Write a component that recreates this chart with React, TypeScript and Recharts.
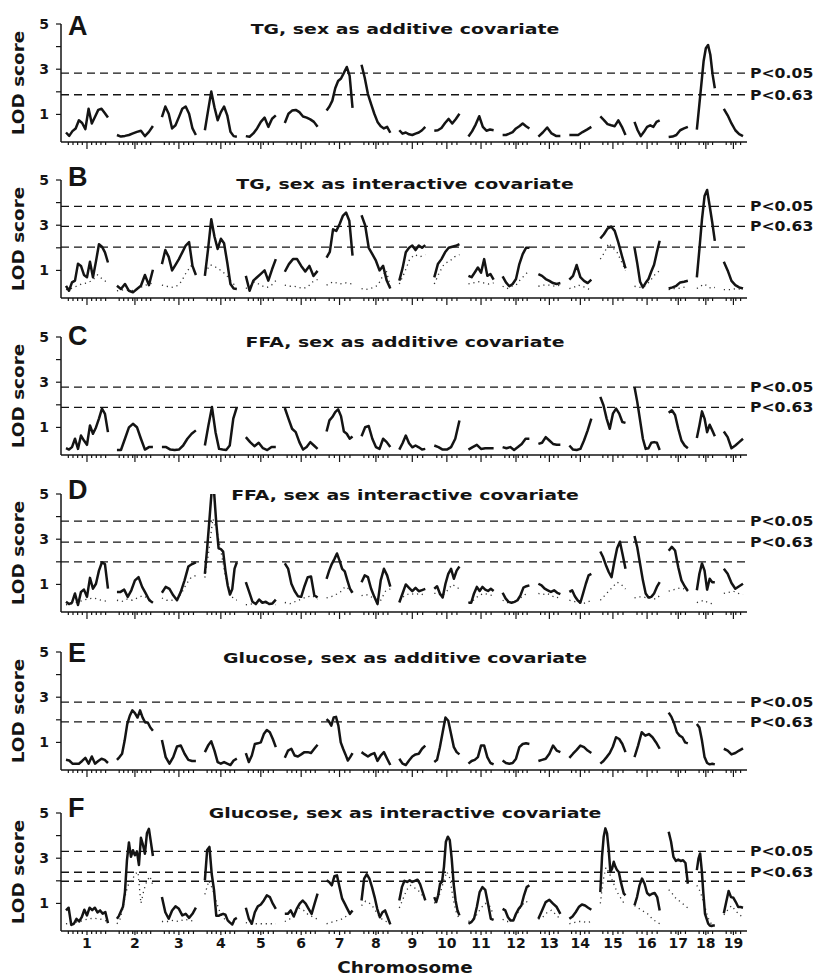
import React from 'react';
import { LineChart, Line, XAxis, YAxis, ReferenceLine } from 'recharts';

// chromosome layout (cM-like units)
const CHROMOSOMES = ['1', '2', '3', '4', '5', '6', '7', '8', '9', '10', '11', '12', '13', '14', '15', '16', '17', '18', '19'];
const CHR_LENGTHS = [105, 90, 85, 80, 75, 82, 65, 72, 65, 63, 63, 67, 55, 55, 63, 63, 48, 45, 48];
const CHR_GAP = 22.5;

const THRESH_LABELS = ['P<0.05', 'P<0.63'];

// A: TG, sex as additive covariate
const TG_ADD = [
  [0.2, 0.05, 0.26, 0.38, 0.74, 0.62, 0.35, 1.25, 0.6, 0.9, 1.2, 1.25, 1.06, 0.86],
  [0.09, 0.02, 0.05, 0.09, 0.16, 0.23, 0.28, 0.04, 0.23, 0.49],
  [0.88, 1.35, 1.03, 0.38, 0.52, 0.88, 1.25, 1.35, 1.03, 0.38, 0.09],
  [0.3, 1.17, 2.01, 1.32, 0.74, 1.1, 1.35, 0.96, 0.23, 0.04, 0.01],
  [0.04, 0.01, 0.16, 0.38, 0.67, 0.86, 0.45, 0.81, 0.96],
  [0.62, 1.03, 1.17, 1.2, 1.1, 0.91, 0.86, 0.78, 0.67, 0.45],
  [1.17, 1.35, 1.61, 2.16, 2.48, 2.59, 2.84, 3.1, 2.7, 1.29],
  [3.2, 2.62, 1.9, 1.46, 1.03, 0.67, 0.48, 0.38, 0.45, 0.19],
  [0.3, 0.15, 0.2, 0.12, 0.09, 0.15, 0.2, 0.3, 0.45],
  [0.28, 0.3, 0.4, 0.62, 0.8, 0.6, 0.8, 1.03],
  [0.02, 0.25, 0.55, 0.92, 0.45, 0.28, 0.33, 0.3],
  [0.09, 0.09, 0.15, 0.22, 0.38, 0.48, 0.6, 0.48, 0.38],
  [0.02, 0.2, 0.42, 0.16, 0.05, 0.05],
  [0.09, 0.09, 0.09, 0.22, 0.33, 0.45],
  [0.91, 0.75, 0.57, 0.52, 0.48, 0.74, 0.45, 0.09],
  [0.67, 0.3, 0.04, 0.23, 0.45, 0.52, 0.45, 0.67, 0.74],
  [0.0, 0.02, 0.09, 0.3, 0.38, 0.45],
  [0.33, 1.32, 2.33, 3.35, 3.93, 4.07, 3.64, 2.77, 2.16],
  [1.25, 0.96, 0.6, 0.3, 0.13, 0.04],
];
const TG_ADD_THRESH = [2.83, 1.87];

// B: TG, sex as interactive covariate
const TG_INT = [
  [0.32, 0.1, 0.47, 0.55, 1.3, 1.2, 0.8, 0.7, 1.38, 0.7, 1.4, 2.16, 2.05, 1.8, 1.35],
  [0.32, 0.18, 0.4, 0.1, 0.03, 0.18, 0.32, 0.8, 0.35, 1.03],
  [1.28, 1.9, 1.6, 1.0, 1.25, 1.5, 1.8, 2.1, 2.25, 1.2, 0.8],
  [0.76, 1.94, 3.26, 2.5, 1.95, 2.4, 2.2, 1.35, 0.4, 0.2, 0.18],
  [0.76, 0.1, 0.55, 0.7, 0.85, 1.0, 0.55, 1.05, 1.5],
  [0.94, 1.28, 1.5, 1.5, 1.2, 0.95, 1.2, 0.75, 0.98],
  [1.57, 1.82, 2.82, 2.75, 3.04, 3.41, 3.56, 3.2, 1.65],
  [3.44, 3.0, 2.0, 1.72, 1.43, 1.0, 1.2, 0.55, 0.2],
  [0.55, 1.1, 1.8, 2.0, 2.1, 1.9, 2.1, 2.0, 2.12],
  [0.69, 1.28, 1.5, 1.8, 2.0, 2.05, 2.09, 2.16],
  [0.76, 0.7, 0.91, 1.13, 0.9, 1.5, 0.76, 0.84, 0.59],
  [0.74, 0.47, 0.3, 0.4, 0.62, 1.28, 1.72, 2.0, 2.0],
  [0.84, 0.76, 0.62, 0.54, 0.44, 0.4, 0.44],
  [0.59, 0.76, 1.24, 0.7, 0.54, 0.44, 0.59],
  [2.41, 2.6, 2.85, 2.94, 2.75, 2.24, 1.65, 1.09],
  [2.01, 1.3, 0.5, 0.25, 0.45, 0.62, 0.95, 1.25, 1.8, 2.31],
  [0.2, 0.25, 0.32, 0.47, 0.5, 0.54],
  [0.69, 1.94, 3.26, 4.29, 4.56, 3.85, 3.12, 2.31],
  [1.38, 1.0, 0.54, 0.35, 0.25, 0.2],
];
const TG_INT_DOT = [
  [0.15, 0.2, 0.3, 0.4, 0.45, 0.55, 0.8, 0.6, 0.45],
  [0.1, 0.15, 0.1, 0.2, 0.35, 0.45],
  [0.35, 0.3, 0.25, 0.3, 0.5, 0.9, 1.2, 0.8],
  [0.9, 1.25, 1.15, 1.0, 0.8, 0.5, 0.25],
  [0.2, 0.3, 0.5, 0.4, 0.3, 0.25, 0.35, 0.55],
  [0.35, 0.3, 0.3, 0.25, 0.2, 0.3, 0.5, 0.6],
  [0.35, 0.5, 0.4, 0.45, 0.4],
  [0.2, 0.15, 0.2, 0.25, 0.35, 0.7, 1.0, 0.3],
  [0.4, 0.9, 1.5, 1.7, 1.6, 1.7],
  [0.4, 0.9, 1.3, 1.4, 1.6, 1.7],
  [0.4, 0.45, 0.5, 0.45, 0.4, 0.45],
  [0.3, 0.2, 0.3, 0.35, 0.6, 0.8, 1.0],
  [0.3, 0.35, 0.35, 0.3, 0.35],
  [0.2, 0.25, 0.35, 0.3, 0.2, 0.15],
  [1.5, 1.8, 2.2, 2.0, 1.8, 1.4, 1.0],
  [0.3, 0.25, 0.3, 0.5, 0.8, 1.0],
  [0.15, 0.2, 0.2, 0.25, 0.3],
  [0.2, 0.3, 0.4, 0.3, 0.2, 0.25],
  [0.15, 0.15, 0.2, 0.15],
];
const TG_INT_THRESH = [3.83, 2.95, 2.03];

// C: FFA, sex as additive covariate
const FFA_ADD = [
  [0.08, 0.02, 0.13, 0.5, 0.05, 0.64, 0.42, 0.23, 1.09, 0.72, 1.0, 1.39, 1.83, 1.6, 0.79],
  [0, 0, 0.5, 1.0, 1.16, 1.01, 0.5, 0.02, 0.13, 0.13],
  [0.13, 0.13, 0.02, 0, 0.02, 0.2, 0.5, 0.72, 0.87],
  [0.2, 1.09, 1.9, 0.79, 0.05, 0.02, 0, 0.2, 1.39, 1.9],
  [0.57, 0.35, 0.17, 0.32, 0.08, 0, 0.13, 0.13],
  [1.86, 1.39, 0.94, 0.79, 0.35, 0.02, 0.13, 0.35, 0.2, 0.05],
  [0.82, 1.31, 1.46, 1.68, 1.8, 1.5, 0.82, 0.72, 0.5, 0.6],
  [0.61, 1.01, 1.06, 0.5, 0.13, 0.05, 0.5, 0.35, 0.13],
  [0.02, 0.3, 0.64, 0.3, 0.12, 0.2, 0.12, 0.02, 0.05],
  [0.2, 0.13, 0.02, 0.02, 0.13, 0.5, 1.31],
  [0.02, 0.13, 0.23, 0.05, 0.08, 0.08, 0.08],
  [0.13, 0.08, 0.13, 0, 0.13, 0.27, 0.5, 0.5],
  [0.27, 0.32, 0.57, 0.42, 0.27, 0.23, 0.23],
  [0.2, 0.02, 0, 0.05, 0.42, 0.87, 1.39],
  [2.35, 1.98, 1.39, 0.94, 1.61, 1.83, 1.61, 1.24, 1.2],
  [2.79, 2.12, 1.31, 0.5, 0.05, 0.08, 0.32, 0.35, 0.32, 0],
  [1.65, 1.76, 1.55, 0.94, 0.42, 0.2, 0.08],
  [0.53, 1.09, 1.71, 1.39, 0.79, 1.12, 0.87, 0.61],
  [0.82, 0.57, 0.08, 0.2, 0.35, 0.5],
];
const FFA_ADD_THRESH = [2.78, 1.89];

// D: FFA, sex as interactive covariate
const FFA_INT = [
  [0.23, 0.13, 0.19, 0.6, 0.09, 0.67, 0.77, 0.45, 1.29, 0.81, 1.03, 1.61, 1.98, 1.9, 0.81],
  [0.67, 0.67, 0.77, 0.45, 0.74, 1.18, 1.32, 0.89, 0.6, 0.3, 0.19],
  [0.63, 0.89, 0.8, 0.52, 0.3, 0.67, 1.18, 1.79, 1.9, 1.98],
  [1.47, 2.6, 3.87, 5.17, 5.13, 3.7, 2.6, 2.56, 2.45, 1.6, 0.95, 0.55, 0.8, 1.7, 1.98],
  [1.1, 0.67, 0.23, 0.13, 0.33, 0.19, 0.23, 0.13, 0.16, 0.33],
  [1.93, 1.7, 1.03, 0.71, 0.48, 0.45, 0.92, 1.32, 1.35, 0.52, 0.42],
  [1.25, 1.61, 1.9, 2.12, 2.37, 2.05, 1.69, 1.58, 1.18, 0.81, 0.63],
  [1.1, 1.4, 1.32, 0.81, 0.45, 0.13, 1.18, 1.69, 1.4, 0.9],
  [0.2, 0.6, 1.0, 0.85, 0.7, 0.85, 0.7, 0.75, 0.8],
  [0.81, 0.92, 0.6, 0.42, 1.03, 1.47, 1.69, 1.25, 1.61, 1.79],
  [0.19, 0.19, 0.6, 0.89, 0.71, 0.89, 0.77, 0.71, 0.81, 0.71],
  [0.63, 0.38, 0.23, 0.19, 0.23, 0.3, 0.52, 0.86, 0.92, 0.96],
  [1.03, 0.96, 0.81, 0.74, 0.67, 0.74, 0.63, 0.57],
  [0.67, 0.74, 0.48, 0.3, 0.19, 0.6, 1.03, 1.4, 1.47],
  [2.46, 2.2, 1.85, 1.55, 1.32, 2.0, 2.6, 2.89, 2.3, 1.69],
  [3.14, 2.63, 1.9, 1.18, 0.6, 0.42, 0.45, 0.6, 0.89, 1.1],
  [2.49, 2.66, 2.5, 1.76, 1.18, 0.92, 0.71],
  [0.74, 1.47, 1.93, 1.61, 0.77, 1.25, 1.1, 1.1],
  [1.69, 1.47, 1.06, 0.81, 0.92, 1.03],
];
const FFA_INT_DOT = [
  [0.1, 0.15, 0.25, 0.35, 0.4, 0.3, 0.25],
  [0.3, 0.25, 0.35, 0.3, 0.4, 0.5, 0.4, 0.25],
  [0.4, 0.3, 0.3, 0.35, 0.6, 1.0, 1.3, 1.4],
  [1.3, 2.5, 3.9, 3.4, 2.5, 1.5, 0.8, 0.4, 0.3],
  [0.1, 0.15, 0.2, 0.15, 0.1],
  [0.2, 0.15, 0.25, 0.35, 0.45, 0.5, 0.35],
  [0.4, 0.45, 0.5, 0.6, 0.7, 0.9, 0.8, 0.6],
  [0.5, 0.55, 0.45, 0.35, 0.3, 0.7, 0.8],
  [0.3, 0.5, 0.6, 0.55, 0.6, 0.5],
  [0.6, 0.6, 0.5, 0.6, 0.8, 1.0, 0.9, 0.8],
  [0.2, 0.3, 0.5, 0.6, 0.55, 0.5],
  [0.3, 0.2, 0.2, 0.25, 0.4, 0.55, 0.6],
  [0.6, 0.55, 0.6, 0.5, 0.4, 0.45],
  [0.3, 0.25, 0.2, 0.15, 0.2, 0.3],
  [0.3, 0.5, 0.7, 0.9, 1.1, 1.0, 0.8],
  [0.4, 0.45, 0.45, 0.4, 0.4, 0.35, 0.5],
  [0.7, 0.75, 0.8, 0.85, 0.8, 0.7],
  [0.2, 0.25, 0.3, 0.2, 0.15, 0.2],
  [0.6, 0.65, 0.7, 0.6, 0.55],
];
const FFA_INT_THRESH = [3.8, 2.87, 2.0];

// E: Glucose, sex as additive covariate
const GLU_ADD = [
  [0.23, 0.2, 0.06, 0.06, 0.06, 0.18, 0.32, 0.06, 0.38, 0.06, 0.18, 0.28, 0.23, 0.09],
  [0.23, 0.35, 0.5, 1.08, 1.81, 2.18, 2.42, 2.3, 2.1, 2.42, 2.1, 1.88, 1.88, 1.66, 1.52],
  [1.11, 0.35, 0.06, 0.35, 0.82, 0.86, 0.5, 0.23, 0.18, 0.18],
  [0.57, 0.86, 1.05, 0.64, 0.13, 0.06, 0.13, 0.06, 0.0, 0.2, 0.28],
  [0.53, 0.13, 0.42, 0.93, 0.96, 1.0, 1.37, 1.55, 1.45, 1.15, 0.79],
  [0.32, 0.64, 0.72, 0.42, 0.38, 0.47, 0.57, 0.57, 0.53, 0.72, 0.9],
  [2.03, 1.93, 1.74, 2.1, 2.13, 1.74, 1.0, 0.72, 0.47, 0.2, 0.35, 0.53],
  [0.57, 0.47, 0.38, 0.47, 0.53, 0.18, 0.42, 0.57, 0.28, 0.0],
  [0.28, 0.06, 0.0, 0.2, 0.38, 0.47, 0.5, 0.72, 0.86],
  [0.13, 0.23, 0.79, 1.45, 2.1, 1.96, 1.37, 0.79, 0.57, 0.47],
  [0.06, 0.18, 0.23, 0.35, 0.86, 0.86, 0.35, 0.09, 0.03],
  [0.2, 0.09, 0.06, 0.09, 0.28, 0.79, 0.93, 0.96, 0.93],
  [0.18, 0.23, 0.28, 0.5, 0.86, 0.64, 0.57],
  [0.32, 0.5, 0.67, 0.86, 0.79, 0.64, 0.53],
  [0.06, 0.18, 0.35, 0.53, 0.82, 1.23, 1.15, 0.93, 0.57],
  [0.35, 0.86, 1.45, 1.3, 1.37, 1.23, 1.0, 0.72],
  [2.32, 2.13, 1.84, 1.45, 1.3, 1.23, 1.0, 0.96],
  [1.81, 1.66, 1.08, 0.35, 0.09, 0.03, 0.06, 0.03],
  [0.72, 0.64, 0.47, 0.53, 0.64, 0.74],
];
const GLU_ADD_THRESH = [2.78, 1.91];

// F: Glucose, sex as interactive covariate
const GLU_INT = [
  [0.69, 0.81, 0.05, 0.1, 0.32, 0.2, 0.39, 0.72, 0.47, 0.81, 0.7, 0.81, 0.6, 0.69, 0.55, 0.62, 0.13],
  [0.32, 0.45, 0.65, 0.85, 1.5, 2.9, 3.7, 3.06, 3.35, 3.13, 3.3, 2.7, 3.9, 3.6, 3.2, 4.1, 4.3, 3.7, 3.1],
  [1.28, 0.61, 0.32, 0.69, 0.87, 0.76, 0.47, 0.54, 0.36, 0.54, 0.81],
  [2.02, 3.36, 3.5, 2.3, 1.6, 0.45, 0.45, 0.5, 0.54, 0.5, 0.25, 0.15, 0.07, 0.3, 0.36],
  [0.81, 0.32, 0.1, 0.61, 0.87, 0.95, 1.13, 1.36, 1.28, 0.99, 0.76],
  [0.54, 0.54, 0.69, 0.42, 0.76, 0.99, 1.13, 0.99, 0.76, 0.54, 0.99, 1.43],
  [2.02, 1.95, 1.8, 2.2, 2.24, 1.72, 1.21, 0.99, 0.76, 0.54, 0.69],
  [1.13, 2.1, 2.29, 2.1, 1.72, 1.28, 0.76, 0.39, 0.61, 0.69, 0.39, 0.07],
  [1.13, 1.72, 2.0, 1.95, 2.02, 1.95, 2.0, 2.05, 1.85, 1.5, 1.13],
  [1.28, 1.06, 1.36, 1.87, 1.95, 2.62, 3.73, 3.95, 3.8, 2.98, 1.87, 1.13, 0.69, 0.47],
  [0.1, 0.17, 0.32, 0.84, 1.5, 1.72, 1.6, 0.99, 0.32, 0.27],
  [0.76, 0.69, 0.39, 0.24, 0.24, 0.54, 0.76, 0.91, 1.36, 1.72, 1.8],
  [0.32, 0.69, 1.06, 1.16, 0.99, 0.84, 0.54],
  [0.32, 0.42, 0.61, 0.84, 0.95, 0.91, 0.81, 0.72],
  [1.5, 3.06, 3.95, 4.32, 4.1, 3.36, 2.39, 2.54, 2.84, 2.62, 2.47, 2.39, 2.02, 1.72, 1.43, 1.36],
  [0.91, 1.28, 1.8, 2.1, 1.87, 1.46, 1.36, 1.43, 1.46, 1.28, 0.69],
  [4.17, 3.73, 3.06, 2.88, 2.94, 2.88, 2.91, 2.79, 1.87],
  [2.47, 2.98, 3.21, 2.47, 1.43, 0.54, 0.32, 0.1, 0.02, 0.0, 0.02, 0.02],
  [0.57, 1.06, 1.55, 1.28, 1.25, 1.06, 0.84, 0.84, 0.81],
];
const GLU_INT_DOT = [
  [0.1, 0.15, 0.2, 0.3, 0.35, 0.3, 0.2],
  [0.1, 0.3, 0.8, 1.5, 1.9, 2.0, 2.3, 2.4, 1.0, 1.6, 2.0, 2.2, 1.8],
  [0.2, 0.2, 0.25, 0.2, 0.3, 0.25, 0.2],
  [1.4, 2.0, 1.6, 1.0, 0.5, 0.3, 0.2, 0.15, 0.2],
  [0.15, 0.1, 0.1, 0.1, 0.1, 0.1, 0.1],
  [0.2, 0.3, 0.5, 0.8, 0.7, 0.5, 0.4, 0.3],
  [0.1, 0.15, 0.2, 0.25, 0.3, 0.4, 0.5, 0.6],
  [0.9, 1.1, 1.0, 0.8, 0.5, 0.3, 0.2, 0.1],
  [0.8, 1.2, 1.6, 1.8, 1.7, 1.6, 1.4, 1.2],
  [1.0, 1.2, 1.5, 2.0, 2.4, 2.1, 1.2, 0.6, 0.3],
  [0.2, 0.3, 0.5, 0.8, 1.0, 0.9, 0.5],
  [0.3, 0.2, 0.2, 0.3, 0.6, 0.9, 1.1, 1.0],
  [0.3, 0.4, 0.6, 0.7, 0.5, 0.3],
  [0.1, 0.15, 0.2, 0.2, 0.15, 0.2],
  [1.0, 2.0, 2.6, 2.4, 2.1, 1.8, 1.5, 1.3, 1.1, 0.9],
  [0.9, 0.8, 0.7, 0.6, 0.5, 0.3, 0.2, 0.1],
  [1.6, 1.5, 1.3, 1.2, 1.1, 1.0, 0.9, 0.8],
  [1.8, 1.5, 1.0, 0.4, 0.1, 0.05],
  [0.5, 0.7, 0.9, 0.7, 0.5, 0.4],
];
const GLU_INT_THRESH = [3.3, 2.38, 1.98];

const INK = '#141414';
const BOLD_FONT = 'DejaVu Sans, Verdana, sans-serif';
const PLOT_TOP = 28;

const chrStarts: number[] = [];
CHR_LENGTHS.forEach((len, i) => {
  chrStarts.push(i === 0 ? 0 : chrStarts[i - 1] + CHR_LENGTHS[i - 1] + CHR_GAP);
});
const chrCenters = chrStarts.map((s, i) => s + CHR_LENGTHS[i] / 2);
const GENOME_END = chrStarts[18] + CHR_LENGTHS[18];
const X_DOMAIN: [number, number] = [-12.5, GENOME_END + 10];

// marker ticks along each chromosome + a major tick at each centre
const X_TICKS: number[] = [];
CHR_LENGTHS.forEach((len, i) => {
  const n = Math.round(len / 12);
  for (let k = 0; k < n; k++) {
    const p = chrStarts[i] + (len * (k + 0.5)) / n;
    if (Math.abs(p - chrCenters[i]) > 3) X_TICKS.push(p);
  }
  X_TICKS.push(chrCenters[i]);
});
X_TICKS.sort((a, b) => a - b);

type Row = { pos: number; lod: number | null };

const buildRows = (curves: number[][]): Row[] => {
  const rows: Row[] = [];
  curves.forEach((vals, c) => {
    const s = chrStarts[c];
    const L = CHR_LENGTHS[c];
    vals.forEach((v, i) => rows.push({ pos: s + (L * i) / (vals.length - 1), lod: v }));
    rows.push({ pos: s + L + CHR_GAP / 2, lod: null });
  });
  return rows;
};

const pLabel = (text: string) => (props: any) => {
  const vb = props.viewBox || {};
  const x = (vb.x ?? 0) + (vb.width ?? 0) + 3;
  const y = vb.y ?? 0;
  return (
    <text
      transform={`translate(${x},${y}) scale(1.12,1)`}
      dy="0.36em"
      fontFamily={BOLD_FONT}
      fontWeight={700}
      fontSize={14}
      fill={INK}
    >
      {text}
    </text>
  );
};

const XTick = (props: any) => {
  const { x, y, payload, showLabels } = props;
  const idx = chrCenters.indexOf(payload.value);
  const major = idx >= 0;
  const len = major ? (showLabels ? 4 : 7) : 3;
  return (
    <g>
      <line x1={x} x2={x} y1={y} y2={y + len} stroke={INK} strokeWidth={1.2} />
      {major && showLabels && (
        <text x={x} y={y + 17} textAnchor="middle" fontFamily={BOLD_FONT} fontWeight={700} fontSize={14} fill={INK}>
          {CHROMOSOMES[idx]}
        </text>
      )}
    </g>
  );
};

interface PanelProps {
  letter: string;
  title: string;
  curves: number[][];
  dots?: number[][];
  thresholds: number[];
  top: number;
  letterDy: number;
  titleDy: number;
  last?: boolean;
}

const Panel: React.FC<PanelProps> = ({ letter, title, curves, dots, thresholds, top, letterDy, titleDy, last }) => {
  const height = PLOT_TOP + 118 + (last ? 47 : 24);
  return (
    <div style={{ position: 'absolute', left: 0, top: top - PLOT_TOP }}>
      <LineChart width={816} height={height} margin={{ top: PLOT_TOP, right: 69, bottom: 0, left: 0 }}>
        <XAxis
          type="number"
          dataKey="pos"
          domain={X_DOMAIN}
          ticks={X_TICKS}
          interval={0}
          allowDataOverflow
          tickSize={0}
          tickMargin={0}
          height={last ? 47 : 24}
          axisLine={{ stroke: INK, strokeWidth: 1.5 }}
          tickLine={false}
          tick={(p: any) => <XTick {...p} showLabels={!!last} />}
        />
        <YAxis
          type="number"
          domain={[-0.22, 5]}
          ticks={[1, 2, 3, 4, 5]}
          allowDataOverflow
          width={61}
          tickSize={5}
          tickMargin={7}
          axisLine={{ stroke: INK, strokeWidth: 1.5 }}
          tickLine={{ stroke: INK, strokeWidth: 1.2 }}
          tickFormatter={(v: number) => (v % 2 === 1 ? String(v) : '')}
          tick={{ fontSize: 14, fontWeight: 700, fill: INK, fontFamily: BOLD_FONT }}
        />
        {thresholds.map((t, i) => (
          <ReferenceLine
            key={t}
            y={t}
            stroke={INK}
            strokeWidth={1.3}
            strokeDasharray="8 5"
            label={i < THRESH_LABELS.length ? pLabel(THRESH_LABELS[i]) : undefined}
          />
        ))}
        {dots && (
          <Line
            data={buildRows(dots)}
            dataKey="lod"
            type="linear"
            stroke="#333"
            strokeWidth={1.3}
            strokeDasharray="1.2 3.8"
            dot={false}
            activeDot={false}
            isAnimationActive={false}
          />
        )}
        <Line
          data={buildRows(curves)}
          dataKey="lod"
          type="linear"
          stroke={INK}
          strokeWidth={2.5}
          strokeLinejoin="round"
          dot={false}
          activeDot={false}
          isAnimationActive={false}
        />
        <text x={68} y={PLOT_TOP + letterDy} fontFamily="Liberation Sans, Arial, sans-serif" fontWeight={700} fontSize={27} fill={INK}>
          {letter}
        </text>
        <text
          transform={`translate(405,${PLOT_TOP + titleDy}) scale(1.35,1)`}
          textAnchor="middle"
          fontFamily={BOLD_FONT}
          fontWeight={700}
          fontSize={14}
          fill={INK}
        >
          {title}
        </text>
        <text
          transform={`translate(24,${PLOT_TOP + 59}) rotate(-90) scale(1.15,1)`}
          textAnchor="middle"
          fontFamily={BOLD_FONT}
          fontWeight={700}
          fontSize={16}
          fill={INK}
        >
          LOD score
        </text>
        {last && (
          <text
            transform={`translate(405,${height - 5}) scale(1.15,1)`}
            textAnchor="middle"
            fontFamily={BOLD_FONT}
            fontWeight={700}
            fontSize={16}
            fill={INK}
          >
            Chromosome
          </text>
        )}
      </LineChart>
    </div>
  );
};

const App: React.FC = () => (
  <div style={{ position: 'relative', width: 816, height: 978, background: '#fff', overflow: 'hidden' }}>
    <style>{'body{margin:0;}'}</style>
    <Panel letter="A" title="TG, sex as additive covariate" curves={TG_ADD} thresholds={TG_ADD_THRESH} top={24} letterDy={11} titleDy={10} />
    <Panel letter="B" title="TG, sex as interactive covariate" curves={TG_INT} dots={TG_INT_DOT} thresholds={TG_INT_THRESH} top={180} letterDy={6} titleDy={9} />
    <Panel letter="C" title="FFA, sex as additive covariate" curves={FFA_ADD} thresholds={FFA_ADD_THRESH} top={337} letterDy={8} titleDy={10} />
    <Panel letter="D" title="FFA, sex as interactive covariate" curves={FFA_INT} dots={FFA_INT_DOT} thresholds={FFA_INT_THRESH} top={494} letterDy={5} titleDy={6} />
    <Panel letter="E" title="Glucose, sex as additive covariate" curves={GLU_ADD} thresholds={GLU_ADD_THRESH} top={652} letterDy={10} titleDy={11} />
    <Panel letter="F" title="Glucose, sex as interactive covariate" curves={GLU_INT} dots={GLU_INT_DOT} thresholds={GLU_INT_THRESH} top={813} letterDy={4} titleDy={5} last />
  </div>
);

export default App;
